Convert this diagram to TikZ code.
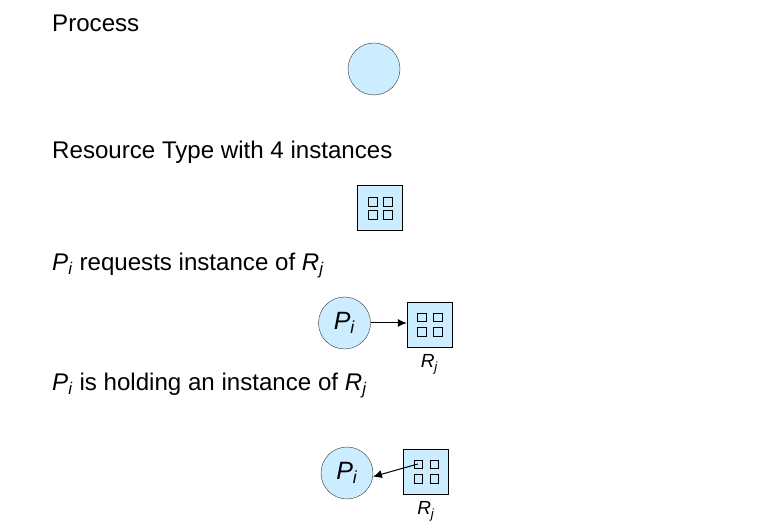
\documentclass[tikz,border=0pt]{standalone}
\usepackage{fontspec}
\setmainfont{Liberation Sans}
\usetikzlibrary{positioning,calc,arrows.meta}

\definecolor{procblue}{HTML}{CCECFF}

\begin{document}
\begin{tikzpicture}[x=1pt,y=-1pt]
            \tikzset{
                heading/.style={
                    anchor=base west,
                    inner sep=0pt,
                    font=\fontsize{24.1}{28}\selectfont
                }
            }
            \tikzset{
                process/.style={
                    circle,
                    draw=black!80,
                    fill=procblue,
                    minimum size=52pt,
                    inner sep=0pt,
                    font=\fontsize{25}{30}\selectfont
                }
            }
            \tikzset{
                resource/.style={
                    draw=black,
                    fill=procblue,
                    minimum size=45pt,
                    inner sep=0pt
                }
            }
            \tikzset{
                inst/.style={
                    draw=black,
                    minimum size=8.5pt,
                    inner sep=0pt
                }
            }
            \tikzset{
                rlabel/.style={
                    below=7pt of #1,
                    inner sep=0pt,
                    font=\fontsize{19}{22}\selectfont
                }
            }
            \tikzset{
                edge/.style={
                    -{Latex[length=9pt,width=8pt]},
                    line width=1pt,
                    black
                }
            }
            \newcommand{\Pname}{\textit{P}\textsubscript{\textit{i}}}
            \newcommand{\Rname}{\textit{R}\textsubscript{\textit{j}}}
            \useasboundingbox (0,0) rectangle (777,529);

            \node[heading] (h1) at (52,31.5) {Process};
            \node[heading] (h2) at (52,158.3) {Resource Type with 4 instances};
            \node[heading] (h3) at (52,270.7) {\Pname\ requests instance of \Rname};
            \node[heading] (h4) at (52,391) {\Pname\ is holding an instance of \Rname};

            % process
            \node[process] (P0) at (374,69) {};

            % resource type
            \node[resource] (R0) at (380,208) {};
            \foreach \dx/\dy/\k in {-7.5/-6.5/1,7.5/-6.5/2,-7.5/6.5/3,7.5/6.5/4}
                \node[inst] (R0i\k) at ($(R0)+(\dx,\dy)$) {};

            % request edge
            \node[process] (P1) at (344.5,323) {\Pname};
            \node[resource] (R1) at (429.5,325) {};
            \foreach \dx/\dy/\k in {-8/-8/1,8/-8/2,-8/6.5/3,8/6.5/4}
                \node[inst] (R1i\k) at ($(R1)+(\dx,\dy)$) {};
            \node[rlabel=R1] (L1) {\Rname};
            \draw[edge] (P1.east) -- (P1.east -| R1.west);

            % assignment edge
            \node[process] (P2) at (347,473) {\Pname};
            \node[resource] (R2) at (426,472) {};
            \foreach \dx/\dy/\k in {-8/-8/1,8/-8/2,-8/6.5/3,8/6.5/4}
                \node[inst] (R2i\k) at ($(R2)+(\dx,\dy)$) {};
            \node[rlabel=R2] (L2) {\Rname};
            \draw[edge] (R2i1.center) -- (P2.-8);
\end{tikzpicture}
\end{document}
